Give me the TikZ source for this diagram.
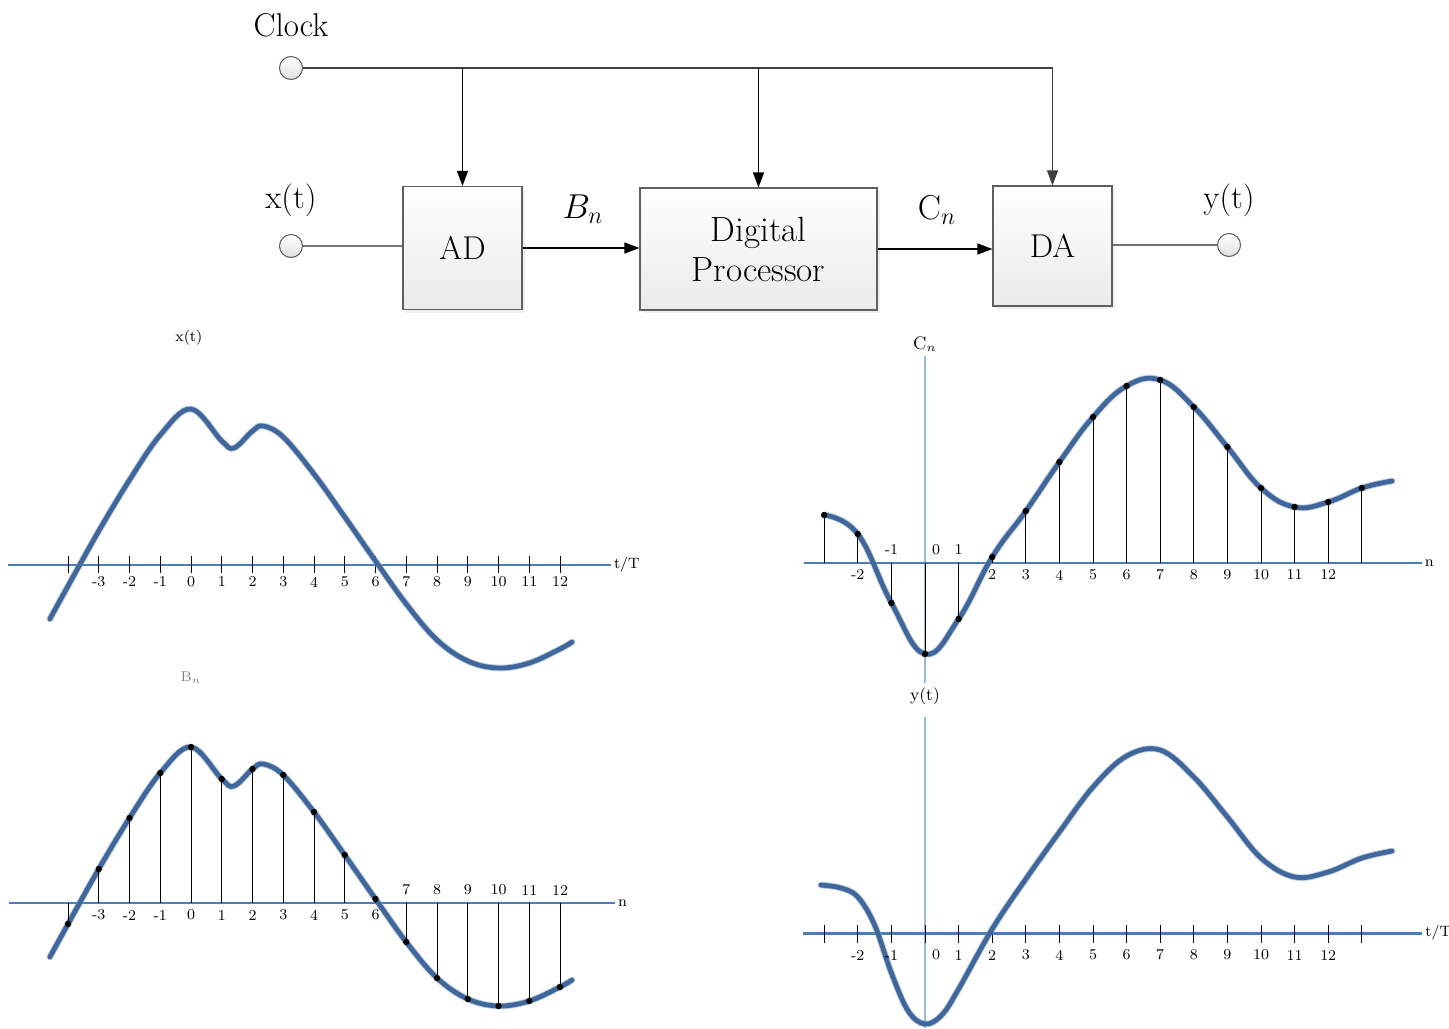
\documentclass[tikz,border=0pt]{standalone}
\usepackage{amsmath}
\usepackage{tikz}
\usetikzlibrary{arrows.meta, positioning, shadows}

\definecolor{boxline}{HTML}{5F5F5F}
\definecolor{wavecol}{HTML}{3F679C}
\definecolor{axisblue}{HTML}{4A7EBB}
\definecolor{vaxisblue}{HTML}{9BB9DF}

\tikzset{
  block/.style={draw=boxline, line width=0.6pt, top color=white, bottom color=black!8,
    drop shadow={shadow xshift=1.5pt, shadow yshift=-1.5pt, fill=black!12},
    font=\fontsize{16.5}{20}\selectfont, align=center, inner sep=0pt},
  port/.style={circle, draw=black!65, line width=0.5pt, minimum size=11.5pt, inner sep=0pt,
    top color=white, bottom color=black!12},
  lbl/.style={font=\fontsize{16.5}{20}\selectfont},
  sig/.style={-{Triangle[length=7.5pt,width=5.5pt]}, line width=0.7pt},
  wire/.style={line width=0.55pt, draw=black!75},
  wavepath/.style={line width=2.4pt, draw=wavecol, line cap=round, line join=round},
  wavehalo/.style={line width=3.3pt, draw=wavecol!60, opacity=0.55, line cap=round, line join=round},
  haxis/.style={line width=1pt, draw=axisblue},
  vaxis/.style={line width=0.8pt, draw=vaxisblue},
  stem/.style={line width=0.45pt, draw=black},
  tickmark/.style={line width=0.5pt, draw=black},
  num/.style={font=\fontsize{7.5}{8}\selectfont, inner sep=1pt},
  sampdot/.style={circle, fill=black, inner sep=0pt, minimum size=3.2pt},
}

\begin{document}
\begin{tikzpicture}[x=0.5pt, y=-0.5pt]
\useasboundingbox (0,0) rectangle (1449,1028);

%% signal chain
\node [block, minimum width=59.5pt, minimum height=61.5pt] (ad) at (462.5,248) {AD};
\node [block, minimum width=118.5pt, minimum height=61pt, font=\fontsize{17.5}{20}\selectfont] (dp) at (758.5,249) {Digital\\Processor};
\node [block, minimum width=59.5pt, minimum height=60pt] (da) at (1052.5,246) {DA};

\node [port] (clk) at (291,68) {};
\node [port] (xin) at (291,246) {};
\node [port] (yout) at (1229,245) {};

\node [lbl] (clklab) at (291,25) {Clock};
\node [lbl] (xinlab) at (291,200) {x(t)};
\node [lbl] (youtlab) at (1229,200) {y(t)};
\node [lbl] (bnlab) at (583,209) {$B_n$};
\node [lbl] (cnlab) at (937,210) {$\mathrm{C}_n$};

\draw [wire, draw=black!55] (xin) -- (xin -| ad.west);
\draw [sig] (ad.east) -- (ad.east -| dp.west);
\draw [sig] (dp.east) -- (dp.east -| da.west);
\draw [wire, draw=black!55] (da.east |- yout) -- (yout);

% clock distribution
\draw [wire, -{Triangle[length=7.5pt,width=5.5pt]}] (clk) -| (da);
\draw [sig] (ad.north |- clk) -- (ad);
\draw [sig] (dp.north |- clk) -- (dp);

%% x(t)
\begin{scope}[xshift=95.5pt, yshift=-282.5pt, x=15.375pt, y=0.5pt]
  \draw [haxis] (-5.95,0) -- (13.66,0) node [right, num] (xtT) {t/T};
  \foreach \n in {-4,...,12} \draw [tickmark] (\n,-8) -- (\n,9);
  \foreach \n in {-3,...,12} \node [num] (xn\n) at (\n,-17) {\n};
  \draw [wavehalo] plot [smooth, tension=0.6] coordinates {(-4.59,-54) (-4,-21) (-3,34) (-2,85) (-1,130) (0,156) (1,124) (1.4,117) (2,134) (2.35,139) (3,128) (4,91) (5,48) (6,4) (7,-39) (8,-75) (9,-96) (10,-103) (11,-98) (12,-84) (12.39,-77)};
  \draw [wavepath] plot [smooth, tension=0.6] coordinates {(-4.59,-54) (-4,-21) (-3,34) (-2,85) (-1,130) (0,156) (1,124) (1.4,117) (2,134) (2.35,139) (3,128) (4,91) (5,48) (6,4) (7,-39) (8,-75) (9,-96) (10,-103) (11,-98) (12,-84) (12.39,-77)};
  \node [num] (xlab) at (-0.07,227) {x(t)};
\end{scope}

%% B_n
\begin{scope}[xshift=95.5pt, yshift=-451.5pt, x=15.375pt, y=0.5pt]
  \draw [haxis] (-5.92,0) -- (13.79,0) node [right, num] (bnn) {n};
  \draw [wavehalo] plot [smooth, tension=0.6] coordinates {(-4.59,-54) (-4,-21) (-3,34) (-2,85) (-1,130) (0,156) (1,124) (1.4,117) (2,134) (2.35,139) (3,128) (4,91) (5,48) (6,4) (7,-39) (8,-75) (9,-96) (10,-103) (11,-98) (12,-84) (12.39,-77)};
  \draw [wavepath] plot [smooth, tension=0.6] coordinates {(-4.59,-54) (-4,-21) (-3,34) (-2,85) (-1,130) (0,156) (1,124) (1.4,117) (2,134) (2.35,139) (3,128) (4,91) (5,48) (6,4) (7,-39) (8,-75) (9,-96) (10,-103) (11,-98) (12,-84) (12.39,-77)};
  \foreach \n/\v in {-4/-21, -3/34, -2/85, -1/130, 0/156, 1/124, 2/134, 3/128, 4/91, 5/48, 6/4, 7/-39, 8/-75, 9/-96, 10/-103, 11/-98, 12/-84} {
    \draw [stem] (\n,0) -- (\n,\v);
    \node [sampdot] (b\n) at (\n,\v) {};
  }
  \foreach \n in {-3,...,6} \node [num] (bl\n) at (\n,-12) {\n};
  \foreach \n in {7,...,12} \node [num] (bl\n) at (\n,13) {\n};
  \node [num, font=\fontsize{7}{8}\selectfont, text=black!50] (blab) at (0,225) {B$_n$};
\end{scope}

%% C_n
\begin{scope}[xshift=462.5pt, yshift=-281.5pt, x=16.8pt, y=0.5pt]
  \draw [vaxis] (0,-120) -- (0,207);
  \node [num, font=\fontsize{9}{10}\selectfont] (clab) at (0,219) {C$_{n}$};
  \draw [haxis] (-3.6,0) -- (14.79,0) node [right, num] (cnn) {n};
  \draw [wavehalo] plot [smooth, tension=0.7] coordinates {(-3,48) (-2,29) (-1,-40) (0,-91) (1,-56) (2,6) (3,52) (4,101) (5,146) (6,177) (7,183) (8,156) (9,116) (10,75) (11,56) (12,61) (13,75) (13.9,82)};
  \draw [wavepath] plot [smooth, tension=0.7] coordinates {(-3,48) (-2,29) (-1,-40) (0,-91) (1,-56) (2,6) (3,52) (4,101) (5,146) (6,177) (7,183) (8,156) (9,116) (10,75) (11,56) (12,61) (13,75) (13.9,82)};
  \foreach \n/\v in {-3/48, -2/29, -1/-40, 0/-91, 1/-56, 2/6, 3/52, 4/101, 5/146, 6/177, 7/183, 8/156, 9/116, 10/75, 11/56, 12/61, 13/75} {
    \draw [stem] (\n,0) -- (\n,\v);
    \node [sampdot] (c\n) at (\n,\v) {};
  }
  \node [num] (cl-2) at (-2,-12) {-2};
  \node [num] (cl-1) at (-1,13) {-1};
  \node [num] (cl0) at (0.33,13) {0};
  \node [num] (cl1) at (1,13) {1};
  \foreach \n in {2,...,12} \node [num] (cl\n) at (\n,-12) {\n};
\end{scope}

%% y(t)
\begin{scope}[xshift=462.5pt, yshift=-466.5pt, x=16.8pt, y=0.5pt]
  \draw [vaxis] (0,-95) -- (0,216);
  \node [num, font=\fontsize{8.5}{9}\selectfont] (ylab) at (0,237) {y(t)};
  \draw [haxis, line width=1.5pt] (-3.63,0) -- (14.79,0) node [right, num] (ytT) {t/T};
  \foreach \n in {-3,...,13} \draw [tickmark] (\n,-10) -- (\n,8);
  \draw [wavehalo] plot [smooth, tension=0.6] coordinates {(-3.1,48) (-2.5,45) (-2,36) (-1.5,8) (-1,-40) (-0.5,-78) (0,-91) (0.5,-82) (1,-56) (2,4) (3,54) (4,101) (5,146) (6,177) (7,183) (8,156) (9,116) (10,75) (11,56) (12,61) (13,75) (13.9,82)};
  \draw [wavepath] plot [smooth, tension=0.6] coordinates {(-3.1,48) (-2.5,45) (-2,36) (-1.5,8) (-1,-40) (-0.5,-78) (0,-91) (0.5,-82) (1,-56) (2,4) (3,54) (4,101) (5,146) (6,177) (7,183) (8,156) (9,116) (10,75) (11,56) (12,61) (13,75) (13.9,82)};
  \node [num] (yl-2) at (-2,-22) {-2};
  \node [num] (yl-1) at (-1,-22) {-1};
  \node [num] (yl0) at (0.33,-22) {0};
  \foreach \n in {1,...,12} \node [num] (yl\n) at (\n,-22) {\n};
\end{scope}
\end{tikzpicture}
\end{document}
